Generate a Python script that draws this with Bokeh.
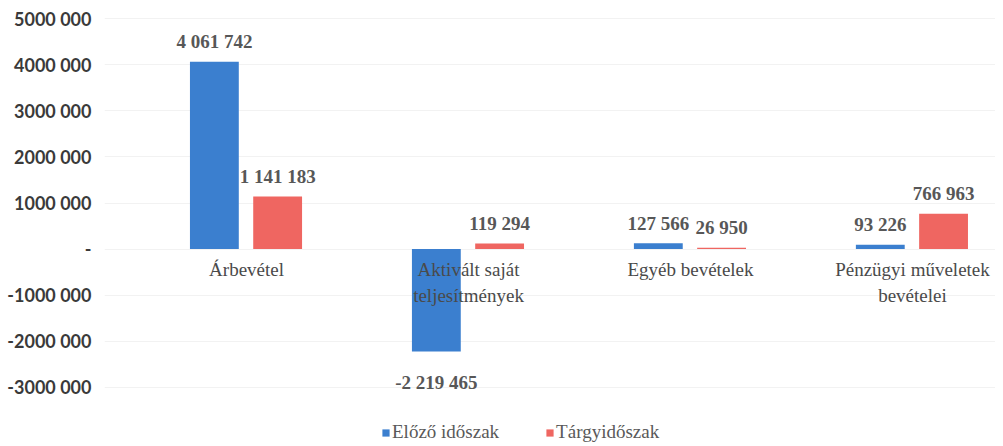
from bokeh.plotting import figure
from bokeh.models import ColumnDataSource, Range1d, FixedTicker, Legend, LegendItem
from bokeh.transform import dodge
from bokeh.core.properties import value
from bokeh.embed import file_html
from bokeh.resources import INLINE

categories = ["Árbevétel", "Aktivált saját\nteljesítmények", "Egyéb bevételek", "Pénzügyi műveletek\nbevételei"]
series_names = ["Előző időszak", "Tárgyidőszak"]
prev_values = [4061742, -2219465, 127566, 93226]
curr_values = [1141183, 119294, 26950, 766963]
tick_values = [-3000000, -2000000, -1000000, 0, 1000000, 2000000, 3000000, 4000000, 5000000]
tick_labels = ["-3000 000", "-2000 000", "-1000 000", "-", "1000 000", "2000 000", "3000 000", "4000 000", "5000 000"]

BLUE = "#3b7fcf"
RED = "#ef6661"
SERIF = "Liberation Serif"


def fmt(v):
    return f"{v:,}".replace(",", " ")


idx = list(range(len(categories)))
src = ColumnDataSource(dict(
    x=idx,
    cat=categories,
    prev=prev_values,
    curr=curr_values,
    prev_lbl=[fmt(v) for v in prev_values],
    curr_lbl=[fmt(v) for v in curr_values],
    prev_off=[-20 if v >= 0 else 31 for v in prev_values],
    curr_off=[-20 if v >= 0 else 31 for v in curr_values],
    zero=[0] * len(categories),
))

p = figure(width=995, height=446, output_backend="svg", toolbar_location=None,
           x_range=Range1d(-0.64, 3.374), y_range=Range1d(-4.282e6, 5.393e6),
           min_border_left=104, min_border_right=0, min_border_top=0, min_border_bottom=0)
p.outline_line_color = None
p.xaxis.visible = False
p.xgrid.grid_line_color = None
p.ygrid.grid_line_color = "#f2f2f2"
p.ygrid.ticker = FixedTicker(ticks=tick_values)

ax = p.yaxis[0]
ax.ticker = FixedTicker(ticks=tick_values)
ax.major_label_overrides = {v: l for v, l in zip(tick_values, tick_labels)}
ax.axis_line_color = None
ax.major_tick_line_color = None
ax.minor_tick_line_color = None
ax.major_label_standoff = 7
ax.major_label_text_font = "Lato"
ax.major_label_text_font_style = "bold"
ax.major_label_text_font_size = "18px"
ax.major_label_text_color = "#3a3a3a"

# value labels (under bars)
p.text(x=dodge("x", -0.145, range=p.x_range), y="prev", text="prev_lbl", source=src,
       y_offset="prev_off", text_align="center", text_baseline="middle",
       text_font=value(SERIF), text_font_style="bold", text_font_size="19px", text_color="#575757")
p.text(x=dodge("x", 0.14, range=p.x_range), y="curr", text="curr_lbl", source=src,
       y_offset="curr_off", text_align="center", text_baseline="middle",
       text_font=value(SERIF), text_font_style="bold", text_font_size="19px", text_color="#575757")

r1 = p.vbar(x=dodge("x", -0.145, range=p.x_range), top="prev", bottom=0, width=0.22,
            source=src, fill_color=BLUE, line_color=None)
r2 = p.vbar(x=dodge("x", 0.14, range=p.x_range), top="curr", bottom=0, width=0.22,
            source=src, fill_color=RED, line_color=None)

# category labels next to zero line
p.text(x="x", y="zero", text="cat", source=src, y_offset=10,
       text_align="center", text_baseline="top", text_line_height=1.25,
       text_font=value(SERIF), text_font_size="19px", text_color="#4a4a4a")

legend = Legend(items=[LegendItem(label=series_names[0], renderers=[r1]),
                       LegendItem(label=series_names[1], renderers=[r2])],
                orientation="horizontal", location=(277, 3),
                glyph_width=9, glyph_height=9, label_standoff=2, spacing=46,
                padding=0, margin=0, border_line_color=None, background_fill_alpha=0,
                label_text_font=SERIF, label_text_font_size="19px", label_text_color="#595959")
p.add_layout(legend)

open("out.html", "w").write(file_html(p, INLINE))
